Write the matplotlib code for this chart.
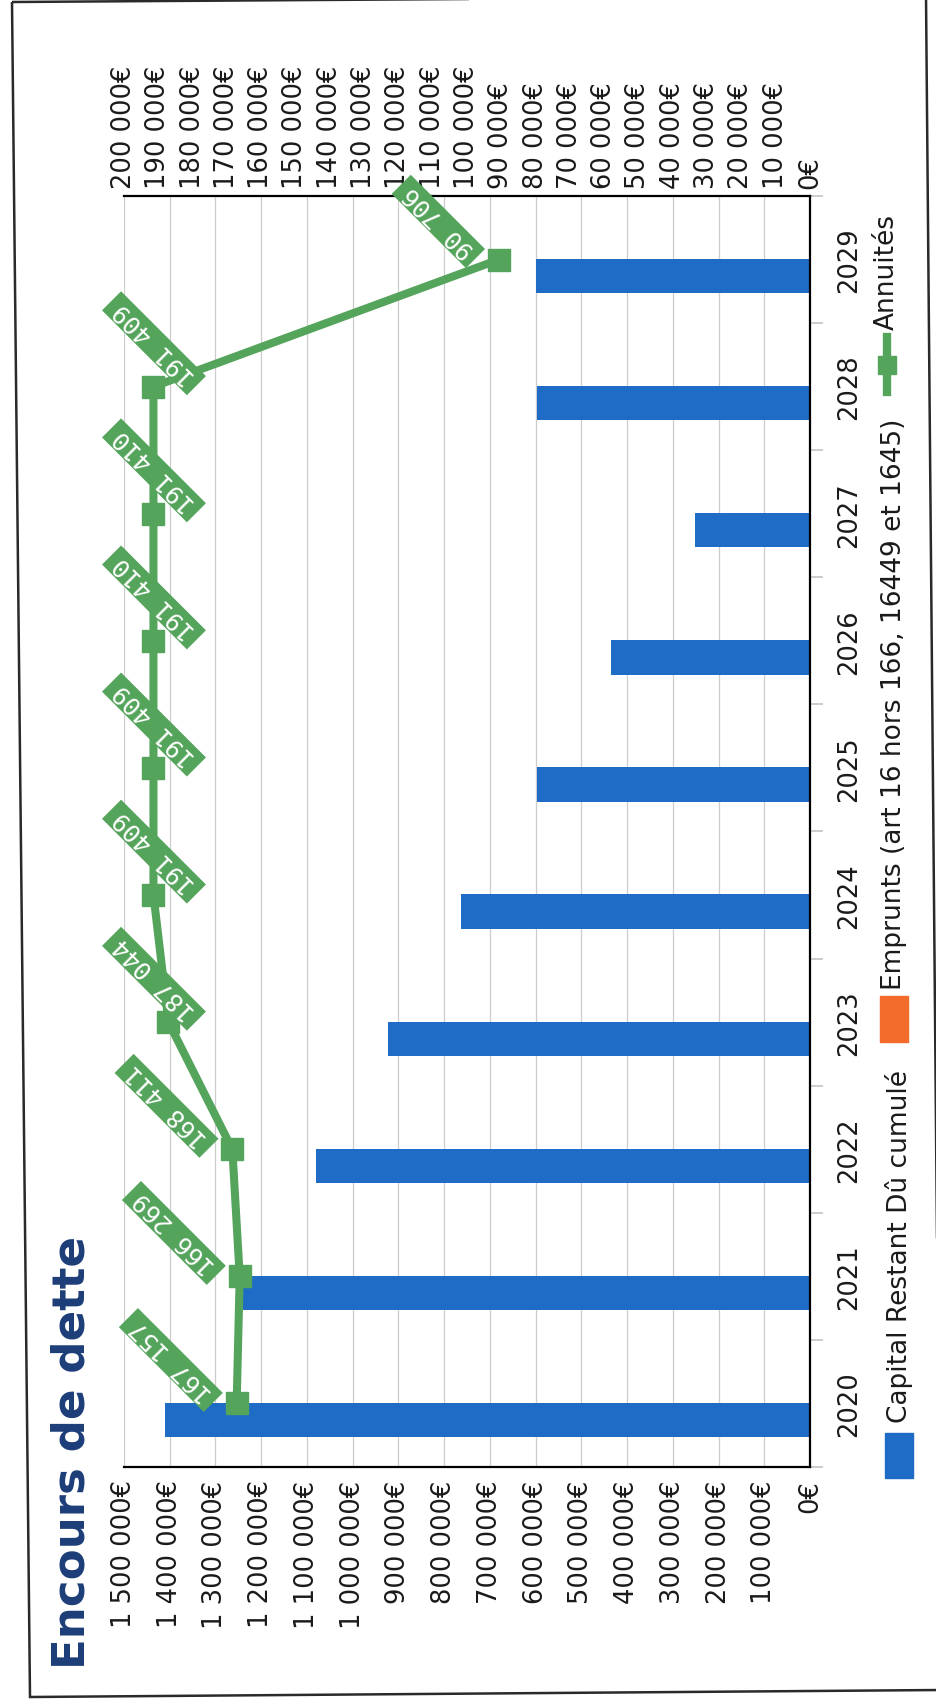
import matplotlib
matplotlib.use("Agg")
import matplotlib.pyplot as plt
import numpy as np
from matplotlib.path import Path
from matplotlib.patches import Rectangle, Polygon
from matplotlib.lines import Line2D

# chart data
years = ['2020', '2021', '2022', '2023', '2024', '2025', '2026', '2027', '2028', '2029']
capital = [1410000, 1240000, 1080000, 922000, 763000, 597000, 435000, 252000, 596000, 600000]
emprunts = [0, 0, 0, 0, 0, 0, 0, 0, 0, 0]
annuites = [167157, 166269, 168411, 187044, 191409, 191409, 191410, 191410, 191409, 90706]
series_names = ['Capital Restant Dû cumulé',
                'Emprunts (art 16 hors 166, 16449 et 1645)',
                'Annuités']
title = 'Encours de dette'
primary_ticks = list(range(0, 1500001, 100000))
secondary_ticks = list(range(0, 200001, 10000))

BLUE = '#1f6cc6'
ORANGE = '#f36b2b'
GREEN = '#55a45c'
NAVY = '#1d3d78'

W, H = 936, 1706


def fx(x):
    return x / W


def fy(y):
    return 1 - y / H


def fmt_eur(v):
    return f'{int(v):,}'.replace(',', ' ') + '€'


def label_box(x0, y0, width, height, mutation_size):
    # wide padding along the text, thin across it (like the Excel labels)
    px = 0.3 * mutation_size
    x1, y1 = x0 - px, y0 - 0.02 * mutation_size
    x2, y2 = x0 + width + px, y0 + height + 0.1 * mutation_size
    return Path([(x1, y1), (x2, y1), (x2, y2), (x1, y2), (x1, y1)], closed=True)


plt.rcParams['font.family'] = ['DejaVu Sans']
fig = plt.figure(figsize=(W / 100, H / 100), dpi=100)

# page frame (scan is slightly skewed)
fig.add_artist(Polygon([(fx(12), fy(3)), (fx(926), fy(-3)), (fx(941), fy(1691)), (fx(30), fy(1698))],
                       closed=True, fill=False, ec='#2a2a2a', lw=1.8, transform=fig.transFigure))

ax = fig.add_axes([fx(124), fy(1468), 686 / W, 1271 / H])
idx = np.arange(len(years))

# bars (chart is rotated on the page: values run right -> left)
ax.barh(idx - 0.13, capital, height=0.27, color=BLUE, zorder=2)
ax.barh(idx + 0.13, emprunts, height=0.27, color=ORANGE, zorder=2)
ax.set_xlim(1500000, 0)
ax.set_ylim(-0.5, len(years) - 0.5)

ax.set_xticks(primary_ticks)
ax.set_xticklabels([fmt_eur(v) for v in primary_ticks], rotation=90)
ax.tick_params(axis='x', length=0, pad=9, labelsize=18.5, labelcolor='#1a1a1a')
ax.grid(axis='x', color='#cdcdcd', lw=0.9)
ax.set_axisbelow(True)

ax.yaxis.tick_right()
ax.set_yticks(idx)
ax.set_yticklabels(years, rotation=90, va='center')
ax.set_yticks(np.arange(-0.5, len(years)), minor=True)
ax.tick_params(axis='y', which='major', length=0, pad=19, labelsize=18.5, labelcolor='#1a1a1a')
ax.tick_params(axis='y', which='minor', length=9, color='#c4c4c4', width=1.2)
ax.spines['left'].set_visible(False)
ax.spines['top'].set_visible(False)
ax.spines['bottom'].set_linewidth(1.6)
ax.spines['right'].set_linewidth(1.6)

# Annuités on the secondary axis
ax2 = ax.twiny()
ax2.set_xlim(200000, 0)
ax2.plot(annuites, idx, color=GREEN, lw=5.8, marker='s', ms=16, zorder=3)
ax2.set_xticks(secondary_ticks)
ax2.set_xticklabels([fmt_eur(v) for v in secondary_ticks], rotation=90)
ax2.tick_params(axis='x', length=0, pad=6, labelsize=18.5, labelcolor='#1a1a1a')
for s in ['left', 'right', 'bottom']:
    ax2.spines[s].set_visible(False)
ax2.spines['top'].set_linewidth(1.6)

labels = []
for v, i in zip(annuites, idx):
    ann = ax2.annotate(f'{v:,}'.replace(',', ' '), xy=(v, i), xytext=(-28, 7),
                       textcoords='offset pixels', rotation=135, rotation_mode='anchor',
                       ha='left', va='center', fontsize=18, family='DejaVu Sans Mono',
                       color='white', zorder=5,
                       bbox=dict(boxstyle=label_box, fc=GREEN, ec='none'))
    labels.append(ann)

# keep labels inside the chart area on the left, like Excel does
fig.canvas.draw()
for ann in labels:
    bb = ann.get_bbox_patch().get_window_extent()
    if bb.x0 < 102:
        ox, oy = ann.xyann
        ann.xyann = (ox + (102 - bb.x0), oy)

# title
fig.text(fx(72), fy(1669), title, rotation=90, ha='center', va='bottom',
         fontsize=32.5, fontweight='bold', color=NAVY)

# legend, drawn by hand because it is rotated with the chart
key_bottom = [1479, 1043, 393]
key_h = [45, 46, 55]
text_start = [1423, 990, 330]
key_x = [899, 894, 887]
colors = [BLUE, ORANGE, GREEN]
for k, name in enumerate(series_names):
    lx = key_x[k]
    if k < 2:
        fig.add_artist(Rectangle((fx(lx - 14), fy(key_bottom[k])), 28 / W, key_h[k] / H,
                                 color=colors[k], transform=fig.transFigure))
    else:
        fig.add_artist(Line2D([fx(lx), fx(lx)], [fy(key_bottom[k]), fy(key_bottom[k] - key_h[k])],
                              color=GREEN, lw=6, transform=fig.transFigure))
        fig.add_artist(Line2D([fx(lx)], [fy(key_bottom[k] - key_h[k] / 2)], color=GREEN, marker='s',
                              ms=13, ls='none', transform=fig.transFigure))
    fig.text(fx(lx), fy(text_start[k]), name, rotation=90, ha='center', va='bottom',
             fontsize=19, color='#1a1a1a')

fig.savefig('out.png', dpi=100)
